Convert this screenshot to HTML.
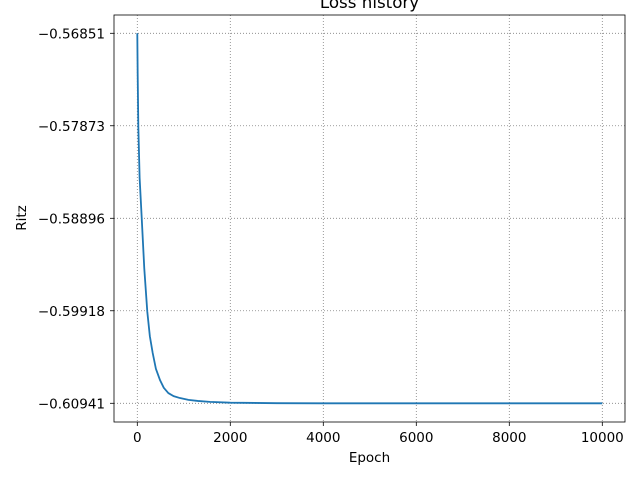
<!DOCTYPE html>
<html><head><meta charset="utf-8"><style>
body{margin:0;background:#fff;font-family:"DejaVu Sans","Liberation Sans",sans-serif}
svg text{font-family:"DejaVu Sans","Liberation Sans",sans-serif;font-size:13.5px;fill:#000}
</style></head><body>
<svg id="chart" width="640" height="480"></svg>
<script>
const epochs=[0,8,22,50,95,150,215,270,331,400,488,570,667,780,918,1100,1300,1563,2000,3000,4000,6000,8000,10000];
const ritz=[-0.56851,-0.57300,-0.57883,-0.58450,-0.58893,-0.59450,-0.59929,-0.60200,-0.60385,-0.60560,-0.60684,-0.60770,-0.60828,-0.60862,-0.60883,-0.60903,-0.60915,-0.60925,-0.60934,-0.60940,-0.60941,-0.60941,-0.60941,-0.60941];
const xTicks=[0,2000,4000,6000,8000,10000];
const yTicks=[-0.56851,-0.57873,-0.58896,-0.59918,-0.60941];
const yLabels=["\u22120.56851","\u22120.57873","\u22120.58896","\u22120.59918","\u22120.60941"];
const L=114,R=625,T=15,B=422;
const sx=v=>137.3+(v-0)*(602.3-137.3)/10000;
const sy=v=>33.3+(v-(-0.56851))*(403.3-33.3)/(-0.60941+0.56851);
const svg=document.getElementById('chart');
const NS='http://www.w3.org/2000/svg';
function mk(t,a,p){const e=document.createElementNS(NS,t);for(const k in a)e.setAttribute(k,a[k]);(p||svg).appendChild(e);return e;}
let e;
xTicks.forEach(v=>{
 e=mk('line',{x1:sx(v),x2:sx(v),y1:T,y2:B,stroke:'#808080','stroke-width':0.8,'stroke-dasharray':'1,2'});
 
 
 mk('line',{x1:sx(v),x2:sx(v),y1:B,y2:B+4,stroke:'#000','stroke-width':0.8});
 e=mk('text',{x:sx(v),y:442,'text-anchor':'middle'});e.textContent=v;
 
 
});
yTicks.forEach((v,i)=>{
 e=mk('line',{x1:L,x2:R,y1:sy(v),y2:sy(v),stroke:'#808080','stroke-width':0.8,'stroke-dasharray':'1,2'});
 
 
 mk('line',{x1:L-4,x2:L,y1:sy(v),y2:sy(v),stroke:'#000','stroke-width':0.8});
 e=mk('text',{x:L-9,y:sy(v)+5,'text-anchor':'end'});e.textContent=yLabels[i];
 
 
});
e=mk('polyline',{points:epochs.map((x,i)=>sx(x)+','+sy(ritz[i])).join(' '),fill:'none',stroke:'#1f77b4','stroke-width':1.8,'stroke-linejoin':'round'});


e=mk('rect',{x:L,y:T,width:R-L,height:B-T,fill:'none',stroke:'#000','stroke-width':0.8});


e=mk('text',{x:(L+R)/2,y:8,'text-anchor':'middle',style:'font-size:16.7px'});e.textContent='Loss history';


e=mk('text',{x:(L+R)/2,y:462,'text-anchor':'middle'});e.textContent='Epoch';


e=mk('text',{x:26,y:218,'text-anchor':'middle',transform:'rotate(-90 26 218)'});e.textContent='Ritz';


</script>
</body></html>
